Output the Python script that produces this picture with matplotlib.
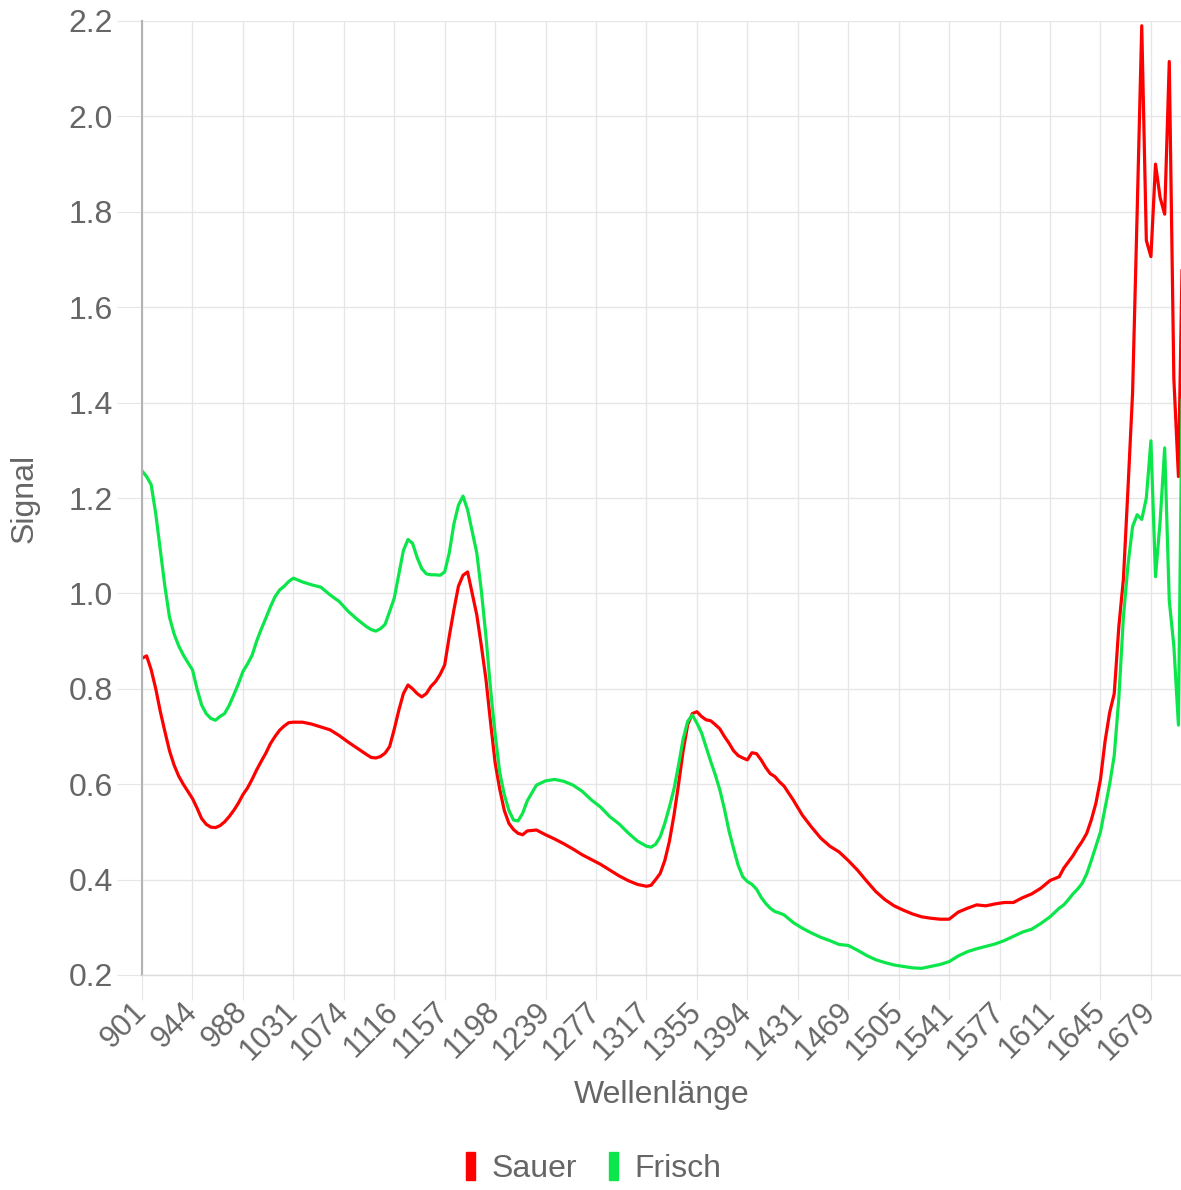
import matplotlib.pyplot as plt
from matplotlib.patches import Patch

# NIR spectrum, Sauer vs. Frisch (Chart.js-like category axis, 228 channels)
wavelength_labels = ["901", "944", "988", "1031", "1074", "1116", "1157", "1198",
                     "1239", "1277", "1317", "1355", "1394", "1431", "1469", "1505",
                     "1541", "1577", "1611", "1645", "1679"]

channel = (list(range(0, 34)) + list(range(35, 50, 2)) + list(range(50, 85))
           + list(range(86, 111, 2)) + list(range(111, 141))
           + list(range(142, 199, 2)) + list(range(200, 228)))

sauer = [
    # 0-33
    0.864, 0.869, 0.840, 0.800, 0.752, 0.710, 0.670, 0.640, 0.617, 0.600,
    0.585, 0.570, 0.550, 0.528, 0.516, 0.510, 0.509, 0.513, 0.521, 0.532,
    0.545, 0.560, 0.578, 0.592, 0.610, 0.630, 0.648, 0.665, 0.685, 0.700,
    0.713, 0.722, 0.729, 0.730,
    # 35-49 odd
    0.730, 0.726, 0.720, 0.714, 0.702, 0.688, 0.675, 0.662,
    # 50-84
    0.656, 0.655, 0.658, 0.665, 0.679, 0.715, 0.755, 0.790, 0.808, 0.800,
    0.790, 0.783, 0.790, 0.805, 0.815, 0.830, 0.850, 0.910, 0.965, 1.015,
    1.038, 1.045, 1.000, 0.955, 0.890, 0.820, 0.730, 0.645, 0.590, 0.545,
    0.518, 0.505, 0.497, 0.494, 0.502,
    # 86-110 even
    0.504, 0.494, 0.485, 0.475, 0.464, 0.452, 0.442, 0.432, 0.420, 0.408,
    0.398, 0.390, 0.386,
    # 111-140
    0.388, 0.400, 0.413, 0.440, 0.480, 0.535, 0.600, 0.670, 0.725, 0.748,
    0.752, 0.742, 0.735, 0.733, 0.725, 0.716, 0.700, 0.686, 0.670, 0.660,
    0.655, 0.651, 0.666, 0.664, 0.651, 0.635, 0.622, 0.616, 0.605, 0.596,
    # 142-198 even
    0.567, 0.535, 0.510, 0.487, 0.470, 0.458, 0.440, 0.420, 0.397, 0.375,
    0.358, 0.345, 0.336, 0.328, 0.322, 0.319, 0.317, 0.317, 0.332, 0.340,
    0.347, 0.345, 0.349, 0.352, 0.352, 0.362, 0.370, 0.382, 0.398,
    # 200-227
    0.406, 0.424, 0.437, 0.450, 0.466, 0.480, 0.497, 0.525, 0.560, 0.610,
    0.690, 0.750, 0.790, 0.930, 1.030, 1.220, 1.420, 1.800, 2.190, 1.740,
    1.706, 1.900, 1.830, 1.795, 2.115, 1.450, 1.245, 1.800,
]

frisch = [
    # 0-33
    1.257, 1.245, 1.228, 1.167, 1.090, 1.014, 0.950, 0.915, 0.890, 0.871,
    0.855, 0.840, 0.800, 0.766, 0.748, 0.738, 0.734, 0.742, 0.748, 0.765,
    0.787, 0.810, 0.836, 0.852, 0.870, 0.900, 0.925, 0.948, 0.972, 0.993,
    1.007, 1.015, 1.025, 1.032,
    # 35-49 odd
    1.024, 1.018, 1.013, 0.997, 0.983, 0.962, 0.945, 0.930,
    # 50-84
    0.924, 0.921, 0.926, 0.935, 0.962, 0.990, 1.040, 1.090, 1.113, 1.105,
    1.075, 1.052, 1.041, 1.039, 1.039, 1.038, 1.045, 1.085, 1.145, 1.185,
    1.204, 1.175, 1.130, 1.085, 1.005, 0.910, 0.800, 0.705, 0.625, 0.578,
    0.545, 0.525, 0.523, 0.539, 0.565,
    # 86-110 even
    0.598, 0.607, 0.610, 0.606, 0.598, 0.585, 0.567, 0.552, 0.532, 0.517,
    0.498, 0.481, 0.470,
    # 111-140
    0.468, 0.474, 0.490, 0.518, 0.552, 0.590, 0.640, 0.695, 0.732, 0.745,
    0.728, 0.708, 0.678, 0.648, 0.620, 0.588, 0.548, 0.502, 0.465, 0.430,
    0.406, 0.396, 0.390, 0.380, 0.363, 0.350, 0.340, 0.333, 0.330, 0.326,
    # 142-198 even
    0.310, 0.298, 0.288, 0.279, 0.272, 0.264, 0.262, 0.252, 0.241, 0.232,
    0.226, 0.221, 0.218, 0.215, 0.214, 0.218, 0.222, 0.228, 0.240, 0.249,
    0.255, 0.260, 0.265, 0.272, 0.281, 0.290, 0.296, 0.308, 0.322,
    # 200-227
    0.340, 0.347, 0.358, 0.370, 0.380, 0.392, 0.412, 0.440, 0.470, 0.500,
    0.550, 0.600, 0.660, 0.780, 0.950, 1.060, 1.140, 1.165, 1.155, 1.200,
    1.320, 1.035, 1.150, 1.305, 0.985, 0.890, 0.724, 1.600,
]

y_ticks = [0.2, 0.4, 0.6, 0.8, 1.0, 1.2, 1.4, 1.6, 1.8, 2.0, 2.2]

RED = "#ff0000"
GREEN = "#0be64b"
GRID = "#e6e6e6"
TXT = "#666666"
FS = 23

plt.rcParams["font.family"] = ["Liberation Sans", "DejaVu Sans"]

W, H = 1181, 1190
fig = plt.figure(figsize=(W / 100, H / 100), dpi=100)
ax = fig.add_axes([142 / W, 1 - 975 / H, (W - 142) / W, (975 - 21) / H])

ax.plot(channel, sauer, color=RED, lw=2.3, solid_joinstyle="round")
ax.plot(channel, frisch, color=GREEN, lw=2.3, solid_joinstyle="round")

ax.set_xlim(0, (W - 142) / 4.586)
ax.set_ylim(0.2, 2.2)

ax.set_xticks(range(0, 11 * len(wavelength_labels), 11))
ax.set_xticklabels(wavelength_labels, rotation=45, ha="right",
                   rotation_mode="anchor", va="center")
ax.set_yticks(y_ticks)
ax.set_yticklabels([f"{v:.1f}" for v in y_ticks])

ax.set_axisbelow(True)
ax.grid(True, color=GRID, lw=1.0)
ax.tick_params(axis="both", length=18, width=0.8, color=GRID,
               labelcolor=TXT, labelsize=FS)
ax.tick_params(axis="x", labelsize=22, pad=5)
ax.tick_params(axis="y", pad=3)

for s in ("top", "right"):
    ax.spines[s].set_visible(False)
ax.spines["left"].set_color("#b3b3b3")
ax.spines["left"].set_linewidth(1.5)
ax.spines["bottom"].set_color("#dcdcdc")
ax.spines["bottom"].set_linewidth(1.0)

ax.set_xlabel("Wellenlänge", fontsize=FS, color=TXT)
ax.xaxis.set_label_coords(0.5, -(1095 - 975) / 954)
ax.xaxis.label.set_va("center")
ax.set_ylabel("Signal", fontsize=FS, color=TXT)
ax.yaxis.set_label_coords(-(142 - 25) / (W - 142), 0.5)
ax.yaxis.label.set_va("center")

handles = [Patch(facecolor=RED, edgecolor=RED, label="Sauer"),
           Patch(facecolor=GREEN, edgecolor=GREEN, label="Frisch")]
leg = fig.legend(handles=handles, loc="center", ncol=2, frameon=False,
                 bbox_to_anchor=(593.5 / W, 1 - 1168 / H), fontsize=FS,
                 handlelength=0.3, handleheight=1.0, handletextpad=0.5,
                 columnspacing=1.0)
for t in leg.get_texts():
    t.set_color(TXT)

fig.savefig("out.png", dpi=100)
